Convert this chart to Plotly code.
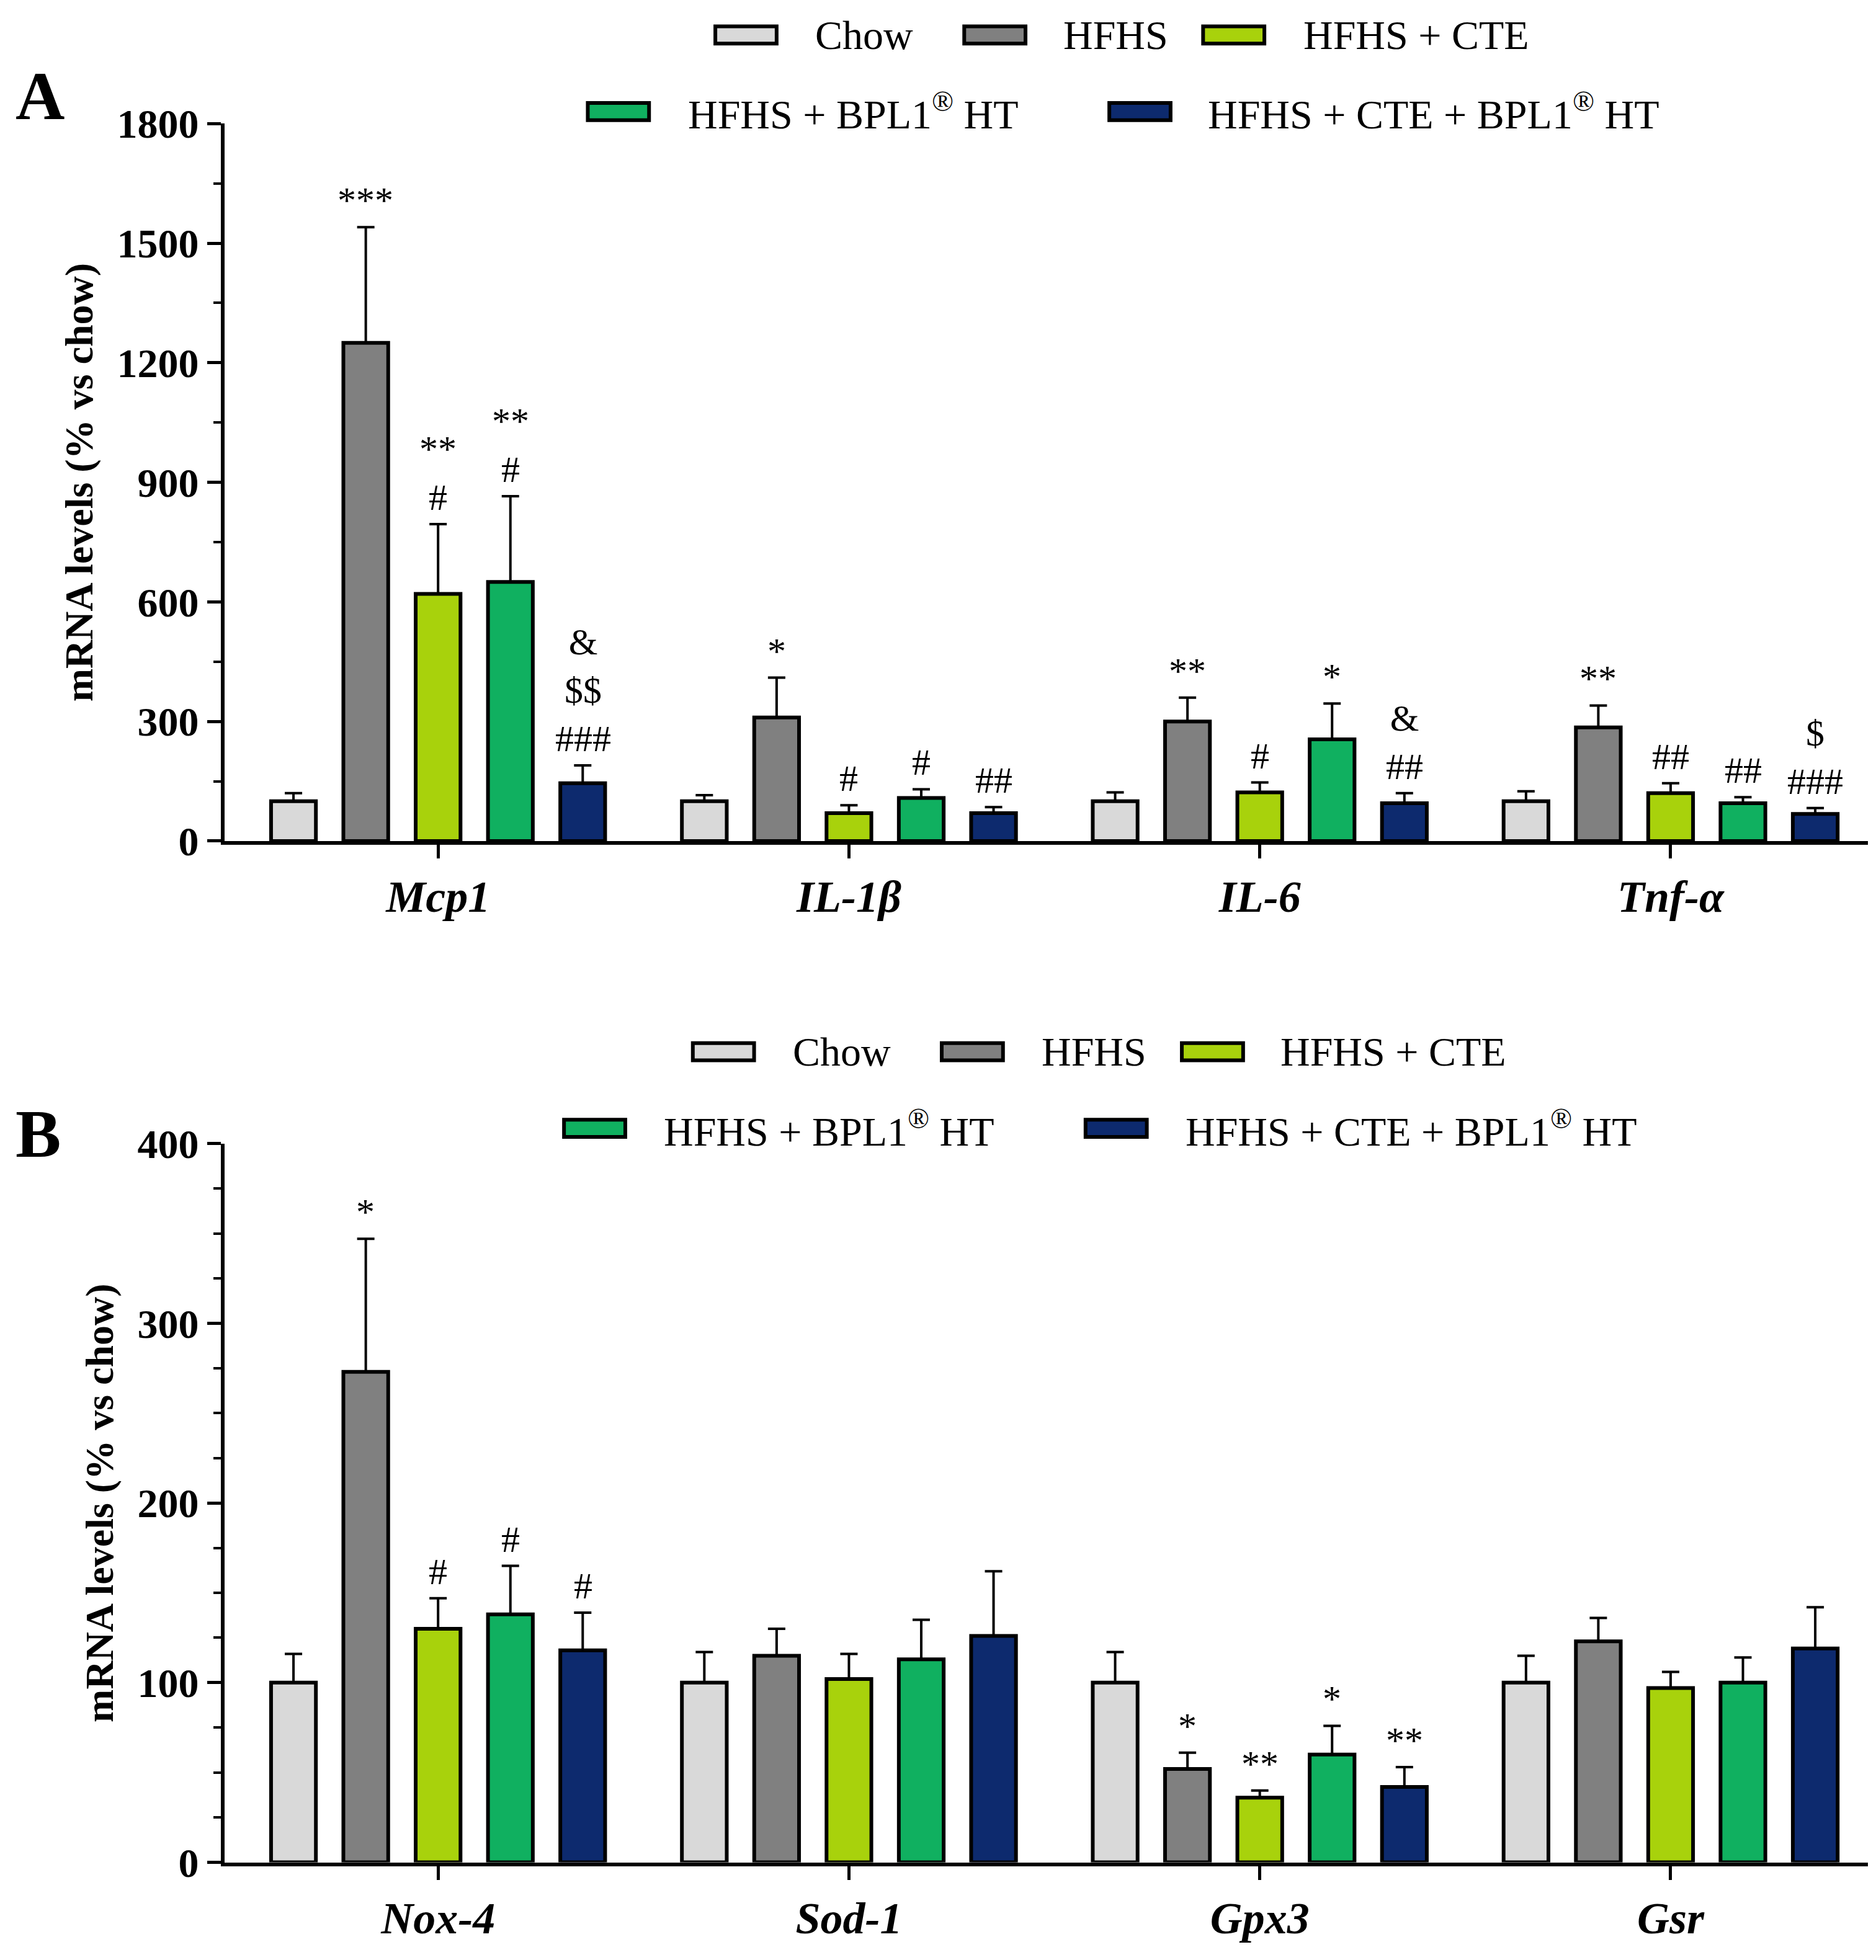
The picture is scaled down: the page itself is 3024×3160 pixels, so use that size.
import plotly.graph_objects as go

groups = ["Chow", "HFHS", "HFHS + CTE", "HFHS + BPL1<sup>®</sup> HT", "HFHS + CTE + BPL1<sup>®</sup> HT"]
colors = ["#d9d9d9", "#808080", "#a8d20c", "#10b060", "#0d2a6e"]

cats_a = ["Mcp1", "IL-1β", "IL-6", "Tnf-α"]
vals_a = [[100, 100, 100, 100], [1250, 310, 300, 285], [620, 70, 122, 120], [650, 108, 255, 95], [145, 70, 95, 68]]
errs_a = [[20, 15, 22, 25], [290, 100, 60, 55], [175, 20, 25, 25], [215, 22, 90, 15], [45, 15, 25, 15]]
sig_a = [["", "", "", ""], ["***", "*", "**", "**"], ["**<br>#", "#", "#", "##"],
         ["**<br>#", "#", "*", "##"], ["&<br>$$<br>###", "##", "&<br>##", "$<br>###"]]

cats_b = ["Nox-4", "Sod-1", "Gpx3", "Gsr"]
vals_b = [[100, 100, 100, 100], [273, 115, 52, 123], [130, 102, 36, 97], [138, 113, 60, 100], [118, 126, 42, 119]]
errs_b = [[16, 17, 17, 15], [74, 15, 9, 13], [17, 14, 4, 9], [27, 22, 16, 14], [21, 36, 11, 23]]
sig_b = [["", "", "", ""], ["*", "", "*", ""], ["#", "", "**", ""], ["#", "", "*", ""], ["#", "", "**", ""]]

FONT = "Liberation Serif"
fig = go.Figure()

def add_panel(cats, vals, errs, sigs, xa, ya):
    for i in range(5):
        fig.add_trace(go.Bar(
            x=list(range(4)), y=vals[i], name=groups[i], marker_color=colors[i],
            marker_line=dict(color="black", width=6), showlegend=False,
            error_y=dict(type="data", array=errs[i], arrayminus=[0]*4, symmetric=False,
                         color="black", thickness=4, width=14),
            xaxis=xa, yaxis=ya, offsetgroup=str(i)))
        for j in range(4):
            if sigs[i][j]:
                fig.add_annotation(x=j + (i - 2) * 0.1763, y=vals[i][j] + errs[i][j],
                                   xref=xa, yref=ya, text=sigs[i][j], showarrow=False,
                                   yanchor="bottom", yshift=8,
                                   font=dict(family=FONT, size=60, color="black"))

add_panel(cats_a, vals_a, errs_a, sig_a, "x", "y")
add_panel(cats_b, vals_b, errs_b, sig_b, "x2", "y2")

# manual legends (paper coordinates)
def add_legend(rows):
    for (y, items) in rows:
        for (rx, tx, k) in items:
            fig.add_shape(type="rect", xref="paper", yref="paper", x0=rx/1500, x1=(rx+49)/1500,
                          y0=y-0.0045, y1=y+0.0045, fillcolor=colors[k], line=dict(color="black", width=6))
            fig.add_annotation(text=groups[k], x=tx/1500, y=y, xref="paper", yref="paper", showarrow=False,
                               xanchor="left", yanchor="middle", font=dict(family=FONT, size=66, color="black"))

add_legend([(0.996, [(568, 647, 0), (767, 845, 1), (958, 1037, 2)]),
            (0.956, [(466, 545, 3), (883, 961, 4)]),
            (0.465, [(550, 629, 0), (749, 828, 1), (941, 1019, 2)]),
            (0.425, [(447, 526, 3), (864, 943, 4)])])

axcommon = dict(showline=True, linewidth=6, linecolor="black", ticks="outside", tickwidth=5,
                ticklen=22, tickcolor="black", showgrid=False, zeroline=False)
tickfont = dict(family=FONT, size=66, color="black")
catfont = dict(family=FONT, size=72, color="black")
titlefont = dict(family=FONT, size=64, color="black")
fig.update_layout(
    width=3024, height=3160, plot_bgcolor="white", paper_bgcolor="white", showlegend=False,
    margin=dict(l=0, r=0, t=0, b=0), barmode="group", bargap=0.12, bargroupgap=0.38,
    xaxis=dict(domain=[0.117, 0.993], anchor="y", range=[-0.52, 3.48], tickvals=list(range(4)),
               ticktext=[f"<b><i>{c}</i></b>" for c in cats_a], tickfont=catfont, **axcommon),
    yaxis=dict(domain=[0.575, 0.9497], anchor="x", range=[0, 1800], tickvals=[0, 300, 600, 900, 1200, 1500, 1800],
               ticktext=[f"<b>{v}</b>" for v in [0, 300, 600, 900, 1200, 1500, 1800]], tickfont=tickfont,
               title=dict(text="<b>mRNA levels (% vs chow)</b>", font=titlefont, standoff=20),
               minor=dict(tickvals=[150, 450, 750, 1050, 1350, 1650], ticks="outside", ticklen=12, tickwidth=4, tickcolor="black"),
               **axcommon),
    xaxis2=dict(domain=[0.117, 0.993], anchor="y2", range=[-0.52, 3.48], tickvals=list(range(4)),
                ticktext=[f"<b><i>{c}</i></b>" for c in cats_b], tickfont=catfont, **axcommon),
    yaxis2=dict(domain=[0.0416, 0.417], anchor="x2", range=[0, 400], tickvals=[0, 100, 200, 300, 400],
                ticktext=[f"<b>{v}</b>" for v in [0, 100, 200, 300, 400]], tickfont=tickfont,
                title=dict(text="<b>mRNA levels (% vs chow)</b>", font=titlefont, standoff=20),
                minor=dict(tickvals=[25, 50, 75, 125, 150, 175, 225, 250, 275, 325, 350, 375], ticks="outside", ticklen=12, tickwidth=4, tickcolor="black"),
                **axcommon),
)
fig.add_annotation(text="<b>A</b>", x=0.005, y=0.964, xref="paper", yref="paper", showarrow=False,
                   xanchor="left", yanchor="middle", font=dict(family=FONT, size=110, color="black"))
fig.add_annotation(text="<b>B</b>", x=0.005, y=0.422, xref="paper", yref="paper", showarrow=False,
                   xanchor="left", yanchor="middle", font=dict(family=FONT, size=110, color="black"))
fig.write_html("out.html")
